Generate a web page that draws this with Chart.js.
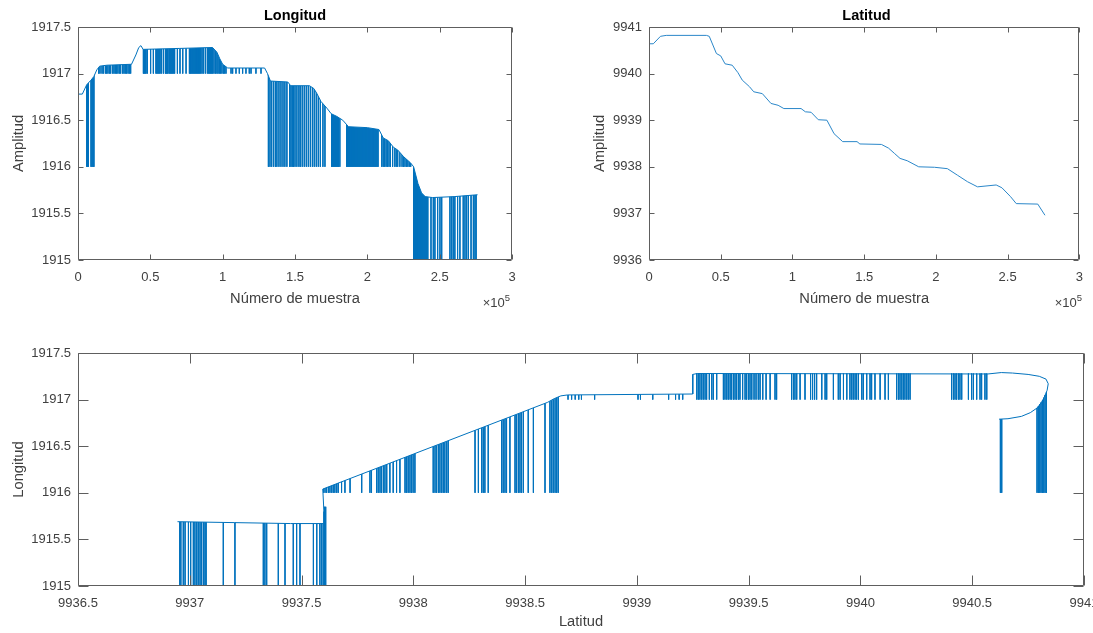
<!DOCTYPE html>
<html><head><meta charset="utf-8">
<script src="https://cdn.jsdelivr.net/npm/chart.js@4.4.1/dist/chart.umd.min.js"></script>
<style>
html,body{margin:0;padding:0;width:1093px;height:633px;overflow:hidden;background:#fff;}
canvas{position:absolute;display:block;}
.t{position:absolute;font-family:'Liberation Sans',Arial,Helvetica,sans-serif;white-space:nowrap;}
.ttl{font-weight:bold;font-size:14.5px;color:#000;text-align:center;}
.exp{font-size:13px;color:#404040;text-align:right;}
.exp span{position:relative;top:-6px;font-size:9.5px;}
</style></head><body>
<canvas id="c1" width="545" height="315" style="left:0;top:0;width:545px;height:315px"></canvas>
<canvas id="c2" width="513" height="315" style="left:580px;top:0;width:513px;height:315px"></canvas>
<canvas id="c3" width="1110" height="303" style="left:0;top:330px;width:1110px;height:303px"></canvas>
<div class="t ttl" style="left:78px;top:7px;width:434px">Longitud</div>
<div class="t ttl" style="left:649px;top:7px;width:435px">Latitud</div>
<div class="t exp" style="left:450px;top:295px;width:60px">×10<span>5</span></div>
<div class="t exp" style="left:1022px;top:295px;width:60px">×10<span>5</span></div>
<script>
// ---------- tick labels ----------
const sampleTicks = [0, 0.5, 1, 1.5, 2, 2.5, 3];
const lonTicks = [1915, 1915.5, 1916, 1916.5, 1917, 1917.5];
const latTicks = [9936, 9937, 9938, 9939, 9940, 9941];
const latAxisTicks = [9936.5, 9937, 9937.5, 9938, 9938.5, 9939, 9939.5, 9940, 9940.5, 9941];

// ---------- Longitud vs sample (x in units of 1e5) ----------
const lonSample = [0, 0.03, 0.06, 0.09, 0.11, 0.13, 0.15, 0.2, 0.37, 0.4, 0.42, 0.435, 0.45, 0.7, 0.93, 0.96, 0.98, 1.0, 1.035, 1.29, 1.31, 1.33, 1.45, 1.47, 1.6, 1.63, 1.65, 1.68, 1.72, 1.75, 1.79, 1.83, 1.87, 2.0, 2.08, 2.11, 2.145, 2.18, 2.21, 2.25, 2.3, 2.32, 2.35, 2.375, 2.4, 2.45, 2.6, 2.762];
const lonValue = [1916.78, 1916.78, 1916.88, 1916.93, 1916.97, 1917.04, 1917.08, 1917.09, 1917.1, 1917.2, 1917.28, 1917.3, 1917.26, 1917.27, 1917.28, 1917.23, 1917.16, 1917.1, 1917.06, 1917.06, 1917.0, 1916.92, 1916.91, 1916.87, 1916.87, 1916.84, 1916.79, 1916.7, 1916.63, 1916.57, 1916.54, 1916.5, 1916.43, 1916.42, 1916.4, 1916.31, 1916.28, 1916.21, 1916.18, 1916.11, 1916.04, 1916.0, 1915.82, 1915.72, 1915.68, 1915.67, 1915.68, 1915.7];
// drop-outs (sample positions), floor / top of each group
const lonDropA = [0.003, 0.06, 0.066, 0.072, 0.09, 0.097, 0.104, 0.11];
const lonDropB = [0.143, 0.152, 0.166, 0.175, 0.189, 0.198, 0.207, 0.217, 0.226, 0.24, 0.249, 0.258, 0.267, 0.276, 0.286, 0.295, 0.309, 0.318, 0.327, 0.336, 0.346, 0.355, 0.364, 0.452, 0.458, 0.464, 0.47, 0.479, 0.502, 0.521, 0.539, 0.546, 0.553, 0.56, 0.567, 0.576, 0.59, 0.604, 0.61, 0.616, 0.622, 0.631, 0.638, 0.645, 0.652, 0.659, 0.668, 0.687, 0.705, 0.724, 0.747, 0.77, 0.777, 0.783, 0.79, 0.797, 0.804, 0.811, 0.818, 0.825, 0.832, 0.839, 0.848, 0.857, 0.866, 0.88, 0.894, 0.903, 0.91, 0.917, 0.924, 0.931, 0.94, 0.95, 0.96, 0.968, 0.977, 0.986, 0.995, 1.005, 1.014, 1.023, 1.058, 1.069, 1.092, 1.115, 1.138, 1.161, 1.184, 1.196, 1.23, 1.265];
const lonDropC = [1.316, 1.327, 1.339, 1.353, 1.366, 1.375, 1.389, 1.403, 1.417, 1.43, 1.444, 1.463, 1.472, 1.481, 1.49, 1.5, 1.513, 1.527, 1.537, 1.55, 1.564, 1.578, 1.592, 1.606, 1.62, 1.633, 1.647, 1.661, 1.675, 1.693, 1.707, 1.753, 1.76, 1.767, 1.774, 1.781, 1.788, 1.795, 1.8, 1.81, 1.857, 1.864, 1.871, 1.878, 1.885, 1.892, 1.899, 1.906, 1.913, 1.92, 1.927, 1.934, 1.941, 1.948, 1.955, 1.962, 1.969, 1.976, 1.983, 1.99, 1.997, 2.004, 2.011, 2.018, 2.025, 2.032, 2.039, 2.046, 2.053, 2.06, 2.067, 2.074, 2.1, 2.11, 2.12, 2.13, 2.14, 2.15, 2.16, 2.175, 2.19, 2.2, 2.21, 2.225, 2.24, 2.25, 2.26, 2.27, 2.28, 2.29, 2.3];
const lonDropD = [2.32, 2.327, 2.334, 2.341, 2.348, 2.355, 2.362, 2.369, 2.376, 2.383, 2.39, 2.397, 2.404, 2.411, 2.418, 2.44, 2.456, 2.467, 2.486, 2.502, 2.514, 2.571, 2.583, 2.594, 2.605, 2.624, 2.64, 2.663, 2.675, 2.686, 2.698, 2.717, 2.733, 2.744, 2.752];
const lonDropFloor = [1916, 1917, 1916, 1915];
const lonDropTop = [1917.0, 1917.35, 1917.0, 1916.1];

// ---------- Latitud vs sample ----------
const latSample = [0, 0.03, 0.08, 0.12, 0.4, 0.42, 0.47, 0.5, 0.53, 0.58, 0.62, 0.65, 0.7, 0.73, 0.79, 0.85, 0.9, 0.94, 1.06, 1.09, 1.13, 1.18, 1.24, 1.29, 1.35, 1.45, 1.47, 1.62, 1.67, 1.71, 1.75, 1.8, 1.88, 1.99, 2.08, 2.15, 2.22, 2.29, 2.42, 2.46, 2.52, 2.56, 2.71, 2.76];
const latValue = [9940.64, 9940.64, 9940.8, 9940.82, 9940.82, 9940.8, 9940.43, 9940.38, 9940.21, 9940.18, 9940.02, 9939.86, 9939.72, 9939.61, 9939.57, 9939.36, 9939.32, 9939.25, 9939.25, 9939.18, 9939.17, 9939.01, 9939.0, 9938.71, 9938.54, 9938.54, 9938.49, 9938.48, 9938.4, 9938.29, 9938.18, 9938.13, 9938.0, 9937.99, 9937.96, 9937.82, 9937.68, 9937.57, 9937.61, 9937.55, 9937.36, 9937.21, 9937.2, 9936.96];

// ---------- Longitud vs Latitud ----------
const pathLat = [9940.62, 9940.66, 9940.72, 9940.76, 9940.79, 9940.81, 9940.825, 9940.835, 9940.84, 9940.83, 9940.8, 9940.75, 9940.68, 9940.63, 9940.57, 9939.27, 9939.25, 9939.25, 9938.69, 9938.66, 9938.63, 9938.6, 9937.595, 9937.6, 9937.6, 9937.45, 9937.2, 9936.945];
const pathLon = [1916.79, 1916.795, 1916.82, 1916.86, 1916.91, 1916.97, 1917.04, 1917.1, 1917.17, 1917.22, 1917.25, 1917.27, 1917.285, 1917.29, 1917.275, 1917.28, 1917.27, 1917.06, 1917.05, 1917.04, 1917.01, 1916.97, 1916.04, 1915.8, 1915.67, 1915.67, 1915.68, 1915.69];
const pathMaskStart = 17;
const loopDropLat = [9940.626, 9940.632, 9940.79, 9940.796, 9940.802, 9940.808, 9940.814, 9940.82, 9940.826, 9940.832];
const loopDropTop = [1916.79, 1916.79, 1916.91, 1916.93, 1916.95, 1916.97, 1916.99, 1917.02, 1917.05, 1917.08];
const topDropLat = [9939.268, 9939.275, 9939.282, 9939.29, 9939.297, 9939.305, 9939.312, 9939.324, 9939.335, 9939.342, 9939.357, 9939.387, 9939.394, 9939.402, 9939.409, 9939.417, 9939.424, 9939.432, 9939.439, 9939.446, 9939.454, 9939.461, 9939.473, 9939.484, 9939.491, 9939.499, 9939.506, 9939.514, 9939.524, 9939.533, 9939.543, 9939.551, 9939.563, 9939.578, 9939.596, 9939.618, 9939.625, 9939.692, 9939.7, 9939.707, 9939.715, 9939.73, 9939.752, 9939.777, 9939.786, 9939.795, 9939.804, 9939.827, 9939.842, 9939.849, 9939.879, 9939.901, 9939.909, 9939.924, 9939.939, 9939.953, 9939.961, 9939.968, 9939.976, 9939.983, 9939.991, 9940.006, 9940.013, 9940.028, 9940.043, 9940.05, 9940.065, 9940.088, 9940.11, 9940.125, 9940.162, 9940.17, 9940.177, 9940.185, 9940.192, 9940.199, 9940.207, 9940.214, 9940.222, 9940.408, 9940.416, 9940.423, 9940.43, 9940.438, 9940.445, 9940.453, 9940.483, 9940.497, 9940.505, 9940.52, 9940.535, 9940.542, 9940.557, 9940.565];
const midDropLat = [9938.692, 9938.708, 9938.724, 9938.74, 9938.752, 9938.811, 9939.005, 9939.016, 9939.071, 9939.142, 9939.173, 9939.189, 9939.205];
const slopeDropLat = [9937.59, 9937.597, 9937.605, 9937.612, 9937.62, 9937.627, 9937.635, 9937.642, 9937.649, 9937.657, 9937.664, 9937.679, 9937.694, 9937.717, 9937.769, 9937.806, 9937.813, 9937.836, 9937.843, 9937.851, 9937.858, 9937.866, 9937.873, 9937.881, 9937.895, 9937.91, 9937.925, 9937.94, 9937.963, 9937.97, 9937.977, 9937.985, 9937.992, 9937.999, 9938.007, 9938.089, 9938.097, 9938.104, 9938.112, 9938.119, 9938.127, 9938.134, 9938.141, 9938.149, 9938.156, 9938.276, 9938.291, 9938.306, 9938.313, 9938.32, 9938.335, 9938.395, 9938.402, 9938.41, 9938.417, 9938.432, 9938.455, 9938.462, 9938.47, 9938.477, 9938.484, 9938.492, 9938.514, 9938.537, 9938.589, 9938.611, 9938.619, 9938.626, 9938.634, 9938.641, 9938.648];
const lowDropLat = [9936.955, 9936.96, 9936.971, 9936.979, 9936.994, 9937.004, 9937.016, 9937.023, 9937.031, 9937.038, 9937.046, 9937.053, 9937.061, 9937.068, 9937.073, 9937.15, 9937.202, 9937.329, 9937.336, 9937.344, 9937.396, 9937.426, 9937.463, 9937.478, 9937.493, 9937.553, 9937.568, 9937.582, 9937.59, 9937.597, 9937.603, 9937.608];
const groupFloor = {loop: 1916, top: 1917, mid: 1917, slope: 1916, low: 1915};
const groupTop = {top: 1917.28, mid: 1917.1, slope: 1917.1, low: 1915.85};

// ---------- helpers ----------
const BLUE = '#0072BD';
const FONT = "'Liberation Sans', Arial, Helvetica, sans-serif";
const pts = (xs, ys) => xs.map((x, i) => ({x, y: ys[i]}));
function drops(xs, floor, top) {
  const d = [];
  xs.forEach((x, i) => {
    const t = Array.isArray(top) ? top[i] : top;
    d.push({x, y: t}, {x, y: floor}, {x, y: null});
  });
  return d;
}
const fmt = v => String(Math.round(v * 100) / 100);
const line = (data, extra) => Object.assign({data, borderColor: BLUE, borderWidth: 1, pointRadius: 0, fill: false, spanGaps: false}, extra || {});

const framePlugin = {
  id: 'frame',
  afterDraw(chart, args, opts) {
    const {ctx, chartArea: a, scales: {x, y}} = chart;
    const L = opts.len || 5;
    const l = Math.round(a.left) + 0.5, r = Math.round(a.right) - 0.5, t = Math.round(a.top) + 0.5, b = Math.round(a.bottom) - 0.5;
    ctx.save();
    ctx.strokeStyle = '#5e5e5e';
    ctx.lineWidth = 1;
    ctx.beginPath();
    ctx.rect(l, t, r - l, b - t);
    x.ticks.forEach(tk => { const p = Math.round(x.getPixelForValue(tk.value)) + 0.5; ctx.moveTo(p, b); ctx.lineTo(p, b - L); ctx.moveTo(p, t); ctx.lineTo(p, t + L); });
    y.ticks.forEach(tk => { const p = Math.round(y.getPixelForValue(tk.value)) + 0.5; ctx.moveTo(l, p); ctx.lineTo(l + L, p); ctx.moveTo(r, p); ctx.lineTo(r - L, p); });
    ctx.stroke();
    ctx.restore();
  }
};

function build(id, c) {
  return new Chart(document.getElementById(id), {
    type: 'line',
    data: {datasets: c.datasets},
    options: {
      responsive: false, animation: false, events: [],
      layout: {padding: c.pad},
      plugins: {legend: {display: false}, tooltip: {enabled: false}, title: {display: false}, frame: {len: c.tickLen}},
      elements: {point: {radius: 0}, line: {tension: 0}},
      scales: {
        x: {
          type: 'linear', min: c.xMin, max: c.xMax,
          grid: {display: false, drawTicks: false}, border: {display: false},
          ticks: {autoSkip: false, maxRotation: 0, padding: 10, font: {family: FONT, size: 13}, color: '#404040', callback: v => fmt(v)},
          afterBuildTicks: s => { s.ticks = c.xTicks.map(v => ({value: v})); },
          afterFit: s => { s.height = c.xH; },
          title: {display: true, text: c.xTitle, font: {family: FONT, size: 14.7}, color: '#404040', padding: {top: 0, bottom: c.xTitlePad}}
        },
        y: {
          type: 'linear', min: c.yMin, max: c.yMax,
          grid: {display: false, drawTicks: false}, border: {display: false},
          ticks: {autoSkip: false, padding: 7, font: {family: FONT, size: 13}, color: '#404040', callback: v => fmt(v)},
          afterBuildTicks: s => { s.ticks = c.yTicks.map(v => ({value: v})); },
          afterFit: s => { s.width = c.yW; },
          title: {display: true, text: c.yTitle, font: {family: FONT, size: 14.7}, color: '#404040', padding: {top: c.yTitlePad, bottom: 0}}
        }
      }
    },
    plugins: [framePlugin]
  });
}

// Chart 1: Longitud
build('c1', {
  xMin: 0, xMax: 3, yMin: 1915, yMax: 1917.5, xTicks: sampleTicks, yTicks: lonTicks,
  pad: {left: 0, right: 33, top: 27, bottom: 0}, yW: 78, xH: 55, tickLen: 5,
  xTitle: 'Número de muestra', xTitlePad: 7.2, yTitle: 'Amplitud', yTitlePad: 10.2,
  datasets: [
    line(pts(lonSample, lonValue), {fill: 'end', backgroundColor: '#ffffff'}),
    line(drops(lonDropA, lonDropFloor[0], lonDropTop[0])),
    line(drops(lonDropB, lonDropFloor[1], lonDropTop[1])),
    line(drops(lonDropC, lonDropFloor[2], lonDropTop[2])),
    line(drops(lonDropD, lonDropFloor[3], lonDropTop[3]))
  ]
});

// Chart 2: Latitud
build('c2', {
  xMin: 0, xMax: 3, yMin: 9936, yMax: 9941, xTicks: sampleTicks, yTicks: latTicks,
  pad: {left: 0, right: 9, top: 27, bottom: 0}, yW: 69, xH: 55, tickLen: 5,
  xTitle: 'Número de muestra', xTitlePad: 7.2, yTitle: 'Amplitud', yTitlePad: 11.2,
  datasets: [
    line(pts(latSample, latValue), {borderColor: '#2b87c9'})
  ]
});

// Chart 3: Longitud vs Latitud
build('c3', {
  xMin: 9936.5, xMax: 9941, yMin: 1915, yMax: 1917.5, xTicks: latAxisTicks, yTicks: lonTicks,
  pad: {left: 0, right: 26, top: 23, bottom: 0}, yW: 78, xH: 47, tickLen: 10,
  xTitle: 'Latitud', xTitlePad: 2.2, yTitle: 'Longitud', yTitlePad: 10.2,
  datasets: [
    line(pts(pathLat, pathLon)),
    line(pts(pathLat.slice(pathMaskStart), pathLon.slice(pathMaskStart)), {fill: 'end', backgroundColor: '#ffffff', borderColor: 'rgba(0,0,0,0)'}),
    line(drops(loopDropLat, groupFloor.loop, loopDropTop)),
    line(drops(topDropLat, groupFloor.top, groupTop.top)),
    line(drops(midDropLat, groupFloor.mid, groupTop.mid)),
    line(drops(slopeDropLat, groupFloor.slope, groupTop.slope)),
    line(drops(lowDropLat, groupFloor.low, groupTop.low))
  ]
});
</script>
</body></html>
